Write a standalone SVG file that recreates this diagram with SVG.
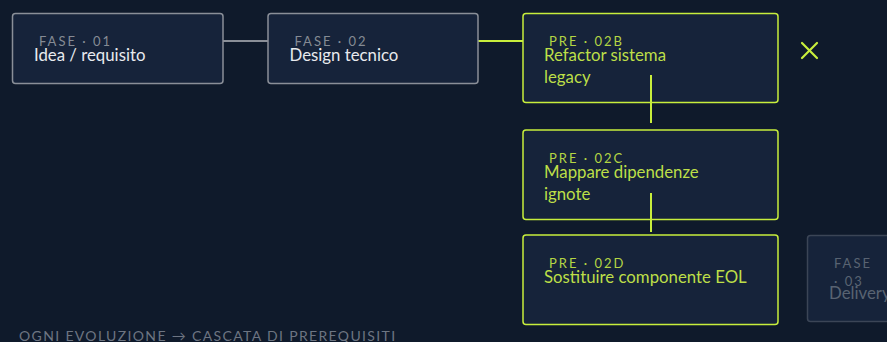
<svg xmlns="http://www.w3.org/2000/svg" width="887" height="342" viewBox="0 0 887 342">
<style>
.bg{fill:#0f1a2b}
.n{fill:#16233a;stroke-width:1.5}
.ng{stroke:#8a8f98}
.np{stroke:#c8ee3c}
.nd{stroke:#3b4556}
.lab{font-family:Lato,"Noto Sans",sans-serif;font-size:13px;letter-spacing:2px}
.t{font-family:Lato,"Noto Sans",sans-serif;font-size:16.8px}
.lg{fill:#858b94}
.tg{fill:#e8eaee}
.lp{fill:#b4d544}
.tp{fill:#bddf48}
.ld{fill:#596372}
.td{fill:#596372}
.foot{font-family:Lato,"Noto Sans",sans-serif;font-size:14px;letter-spacing:1.35px;fill:#6d7582}
</style>
<rect class="bg" x="0" y="0" width="887" height="342"/>
<g id="connectors" stroke-width="2" fill="none">
<line x1="223" y1="41" x2="268" y2="41" stroke="#8a8f98"/>
<line x1="478" y1="41" x2="523" y2="41" stroke="#c8ee3c"/>
</g>
<g id="fase01">
<rect class="n ng" x="12.5" y="13.5" width="210.5" height="70" rx="3"/>
<text class="lab lg" x="39" y="46">FASE · 01</text>
<text class="t tg" x="34" y="61">Idea / requisito</text>
</g>
<g id="fase02">
<rect class="n ng" x="268" y="13.5" width="210" height="70" rx="3"/>
<text class="lab lg" x="294.5" y="46">FASE · 02</text>
<text class="t tg" x="289.5" y="61">Design tecnico</text>
</g>
<g id="pre02b">
<rect class="n np" x="523" y="13.5" width="255" height="89" rx="3"/>
<text class="lab lp" x="549" y="46">PRE · 02B</text>
<text class="t tp" x="544" y="61">Refactor sistema</text>
<text class="t tp" x="544" y="83">legacy</text>
</g>
<g id="pre02c">
<rect class="n np" x="523" y="130" width="255" height="89.5" rx="3"/>
<text class="lab lp" x="549" y="163">PRE · 02C</text>
<text class="t tp" x="544" y="178">Mappare dipendenze</text>
<text class="t tp" x="544" y="200">ignote</text>
</g>
<g id="pre02d">
<rect class="n np" x="523" y="235" width="255" height="89.5" rx="3"/>
<text class="lab lp" x="549" y="268">PRE · 02D</text>
<text class="t tp" x="544" y="283">Sostituire componente EOL</text>
</g>
<g id="fase03">
<rect class="n nd" x="807.5" y="235.5" width="100" height="86" rx="3"/>
<text class="lab ld" x="834" y="268">FASE</text>
<text class="lab ld" x="834" y="286">· 03</text>
<text class="t td" x="829" y="299">Delivery</text>
</g>
<g id="connectors-vertical" stroke="#c8ee3c" stroke-width="2">
<line x1="651" y1="75" x2="651" y2="123"/>
<line x1="651" y1="193" x2="651" y2="232"/>
</g>
<g id="blocked" stroke="#c8ee3c" stroke-width="2.2" stroke-linecap="round">
<line x1="802" y1="43" x2="817" y2="58"/>
<line x1="817" y1="43" x2="802" y2="58"/>
</g>
<text class="foot" x="19" y="340.5">OGNI EVOLUZIONE → CASCATA DI PREREQUISITI</text>
</svg>
